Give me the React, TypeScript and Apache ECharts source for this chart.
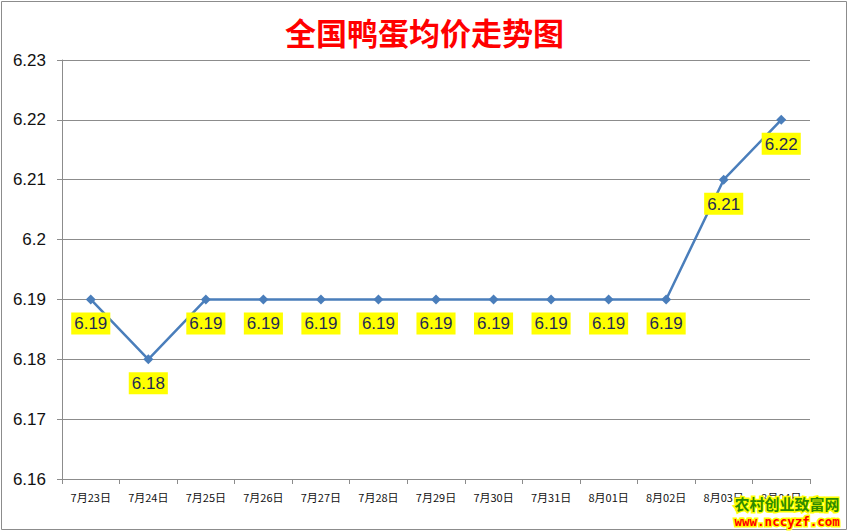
import { useEffect, useRef } from 'react'
import * as echarts from 'echarts'

// 全国鸭蛋均价走势图 · 折线 + 黄底数据标签
const categories = [
  '7月23日', '7月24日', '7月25日', '7月26日', '7月27日', '7月28日', '7月29日',
  '7月30日', '7月31日', '8月01日', '8月02日', '8月03日', '8月04日',
]
const prices = [6.19, 6.18, 6.19, 6.19, 6.19, 6.19, 6.19, 6.19, 6.19, 6.19, 6.19, 6.21, 6.22]

const Y_MIN = 6.16
const Y_MAX = 6.23
const Y_STEP = 0.01

const LINE_COLOR = '#4a7ebb'
const GRID_COLOR = '#8c8c8c'

export default function App() {
  const ref = useRef<HTMLDivElement>(null)

  useEffect(() => {
    if (!ref.current) return
    const chart = echarts.init(ref.current, undefined, { renderer: 'svg' })
    chart.setOption({
      animation: false,
      backgroundColor: '#ffffff',
      title: {
        text: '全国鸭蛋均价走势图',
        left: 'center',
        top: 11,
        textStyle: {
          color: '#ff0000',
          fontSize: 31,
          fontWeight: 'bold',
          fontFamily: 'Noto Sans CJK SC',
        },
      },
      grid: { left: 62, right: 39, top: 60, bottom: 53, containLabel: false },
      xAxis: {
        type: 'category',
        data: categories,
        boundaryGap: true,
        axisLine: { lineStyle: { color: GRID_COLOR, width: 1 } },
        axisTick: { show: true, alignWithLabel: false, length: 5, lineStyle: { color: GRID_COLOR } },
        axisLabel: {
          color: '#111',
          fontSize: 11,
          margin: 12,
          fontFamily: 'Noto Sans CJK SC',
        },
      },
      yAxis: {
        type: 'value',
        min: Y_MIN,
        max: Y_MAX,
        interval: Y_STEP,
        axisLine: { show: true, lineStyle: { color: GRID_COLOR, width: 1 } },
        axisTick: { show: true, length: 5, inside: false, lineStyle: { color: GRID_COLOR } },
        axisLabel: {
          color: '#111',
          fontSize: 17,
          margin: 16,
          fontFamily: 'Liberation Sans Narrow, Liberation Sans',
          formatter: (v: number) => String(Math.round(v * 100) / 100),
        },
        splitLine: { lineStyle: { color: GRID_COLOR, width: 1 } },
      },
      series: [
        {
          type: 'line',
          data: prices,
          symbol: 'diamond',
          symbolSize: 10,
          lineStyle: { color: LINE_COLOR, width: 2.5 },
          itemStyle: { color: LINE_COLOR },
          label: {
            show: true,
            position: 'bottom',
            distance: 8,
            color: '#1f2a55',
            fontSize: 17,
            fontFamily: 'Liberation Sans',
            backgroundColor: '#ffff00',
            padding: [3, 3, 2, 3],
            formatter: (p: any) => p.value.toFixed(2),
          },
        },
      ],
      graphic: [
        {
          type: 'rect',
          shape: { x: 1.5, y: 1.5, width: 845, height: 528 },
          style: { fill: 'none', stroke: '#8c8c8c', lineWidth: 1 },
          silent: true,
        },
        {
          type: 'text',
          left: 733,
          top: 494,
          style: {
            text: '农村创业致富网',
            fill: '#2e8b00',
            stroke: '#ffff00',
            lineWidth: 3,
            font: 'bold 15px Noto Sans CJK SC',
          },
          z: 100,
        },
        {
          type: 'text',
          left: 733,
          top: 513,
          style: {
            text: 'www.nccyzf.com',
            fill: '#ff0000',
            stroke: '#ffff00',
            lineWidth: 3,
            font: 'bold 12.5px DejaVu Sans Mono',
          },
          z: 100,
        },
      ],
    })
    return () => chart.dispose()
  }, [])

  return (
    <div
      ref={ref}
      style={{ position: 'fixed', left: 0, top: 0, width: 849, height: 532 }}
    />
  )
}
